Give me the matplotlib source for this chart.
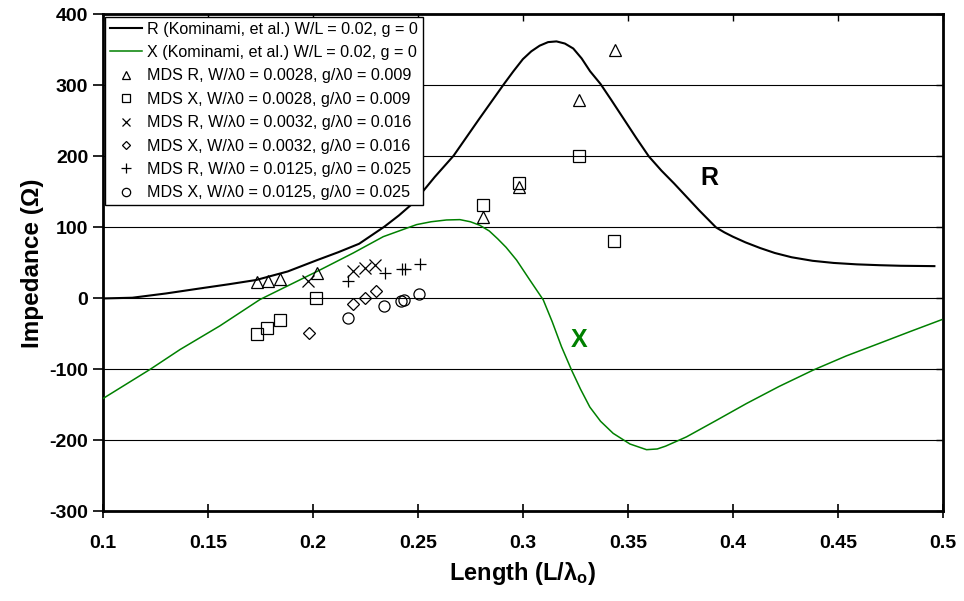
import matplotlib.pyplot as plt
import numpy as np

plt.rcParams['font.family'] = ['Liberation Sans', 'DejaVu Sans']
plt.rcParams['axes.unicode_minus'] = False
plt.rcParams['mathtext.fontset'] = 'custom'
plt.rcParams['mathtext.rm'] = 'Liberation Sans:bold'
plt.rcParams['mathtext.it'] = 'Liberation Sans:bold'
plt.rcParams['mathtext.bf'] = 'Liberation Sans:bold'

# Kominami curves
r_len = [0.100, 0.114, 0.130, 0.146, 0.160, 0.173, 0.188, 0.202, 0.212, 0.222, 0.234, 0.241,
         0.248, 0.258, 0.267, 0.279, 0.291, 0.2955, 0.300, 0.304, 0.308, 0.312, 0.316, 0.320,
         0.324, 0.328, 0.332, 0.337, 0.342, 0.348, 0.354, 0.360, 0.366, 0.372, 0.378, 0.384,
         0.392, 0.396, 0.400, 0.406, 0.413, 0.420, 0.428, 0.438, 0.448, 0.459, 0.470, 0.480, 0.496]
r_imp = [0, 1, 7, 14, 20, 26, 38, 54, 65, 77, 101, 117,
         135, 171, 201, 252, 302, 320, 337, 348, 356, 361, 362, 359,
         352, 338, 320, 302, 280, 253, 226, 200, 180, 162, 143, 124,
         100, 93, 87, 79, 71, 64, 58, 53, 50, 48, 46.8, 46, 45.5]

x_len = [0.100, 0.1224, 0.1367, 0.1557, 0.1748, 0.1875, 0.2033, 0.2192, 0.2335, 0.2494, 0.2563,
         0.2636, 0.270, 0.275, 0.2795, 0.284, 0.288, 0.292, 0.297, 0.3033, 0.3097, 0.314,
         0.3184, 0.3232, 0.3275, 0.3319, 0.337, 0.343, 0.351, 0.3589, 0.364, 0.368, 0.3779,
         0.392, 0.4065, 0.422, 0.4382, 0.454, 0.470, 0.485, 0.4994]
x_imp = [-141, -100, -72, -38.6, -1.5, 17, 40, 64, 87, 104, 108,
         110.5, 111, 108, 103, 95, 84, 72, 54, 26, -2, -33,
         -68, -101, -128, -153, -173, -190, -205, -213, -212, -208, -195,
         -172, -148, -124, -101, -81, -63, -46, -30]

# MDS points
mds_r1_len = [0.1732, 0.1787, 0.1843, 0.2020, 0.2811, 0.2982, 0.3265, 0.3438]
mds_r1_imp = [23, 24, 27, 36, 114, 157, 279, 350]
mds_x1_len = [0.1732, 0.1782, 0.1843, 0.2014, 0.2808, 0.2982, 0.3265, 0.3435]
mds_x1_imp = [-50.6, -41, -31, 0, 132, 163, 200, 81]
mds_r2_len = [0.1978, 0.2189, 0.2248, 0.2295]
mds_r2_imp = [25, 38.5, 43, 46.4]
mds_x2_len = [0.1981, 0.2192, 0.2248, 0.2300]
mds_x2_imp = [-48, -8.5, 0.5, 10.3]
mds_r3_len = [0.2168, 0.2343, 0.2422, 0.2438, 0.2510]
mds_r3_imp = [25, 36, 42, 42, 49]
mds_x3_len = [0.2168, 0.2340, 0.2419, 0.2435, 0.2505]
mds_x3_imp = [-27, -10.5, -3.5, -1.5, 6]

fig = plt.figure(figsize=(9.64, 6.01), dpi=100)
ax = fig.add_axes([0.1068, 0.149, 0.8712, 0.827])

for yv in range(-200, 400, 100):
    ax.axhline(yv, color='black', lw=0.8, zorder=1)

ax.plot(r_len, r_imp, color='black', lw=1.5, label='R (Kominami, et al.) W/L = 0.02, g = 0', zorder=3)
ax.plot(x_len, x_imp, color='#008000', lw=1.1, label='X (Kominami, et al.) W/L = 0.02, g = 0', zorder=3)

mk = dict(mfc='none', mec='black', ls='none', mew=0.9, zorder=4)
ax.plot(mds_r1_len, mds_r1_imp, marker='^', ms=8, label='MDS R, W/λ0 = 0.0028, g/λ0 = 0.009', **mk)
ax.plot(mds_x1_len, mds_x1_imp, marker='s', ms=8, label='MDS X, W/λ0 = 0.0028, g/λ0 = 0.009', **mk)
ax.plot(mds_r2_len, mds_r2_imp, marker='x', ms=8, label='MDS R, W/λ0 = 0.0032, g/λ0 = 0.016', **mk)
ax.plot(mds_x2_len, mds_x2_imp, marker='D', ms=6, label='MDS X, W/λ0 = 0.0032, g/λ0 = 0.016', **mk)
ax.plot(mds_r3_len, mds_r3_imp, marker='+', ms=9, label='MDS R, W/λ0 = 0.0125, g/λ0 = 0.025', **mk)
ax.plot(mds_x3_len, mds_x3_imp, marker='o', ms=8, label='MDS X, W/λ0 = 0.0125, g/λ0 = 0.025', **mk)

ax.text(0.389, 170, 'R', fontsize=18, fontweight='bold', color='black', ha='center', va='center')
ax.text(0.327, -58, 'X', fontsize=18, fontweight='bold', color='#008000', ha='center', va='center')

ax.set_xlim(0.1, 0.5)
ax.set_ylim(-300, 400)
ax.set_xticks(np.arange(0.1, 0.501, 0.05))
ax.set_xticklabels(['0.1', '0.15', '0.2', '0.25', '0.3', '0.35', '0.4', '0.45', '0.5'])
ax.set_yticks(range(-300, 401, 100))
ax.tick_params(axis='x', direction='inout', length=10, width=1.2, labelsize=14, pad=12)
ax.tick_params(axis='y', direction='out', length=7, width=1.2, labelsize=14)
for lab in ax.get_xticklabels() + ax.get_yticklabels():
    lab.set_fontweight('bold')
for s in ax.spines.values():
    s.set_linewidth(2)

top = ax.secondary_xaxis('top')
top.set_xticks(np.arange(0.1, 0.501, 0.05))
top.tick_params(direction='in', length=5, width=1, labeltop=False)
right = ax.secondary_yaxis('right')
right.set_yticks(range(-300, 401, 100))
right.tick_params(direction='in', length=5, width=1, labelright=False)

ax.set_xlabel(r'Length (L/$\lambda_o$)', fontsize=17, fontweight='bold', labelpad=6)
ax.set_ylabel('Impedance (Ω)', fontsize=17.5, fontweight='bold', labelpad=4)

leg = ax.legend(loc='upper left', fontsize=11.6, frameon=True, fancybox=False, framealpha=1,
                edgecolor='black', borderaxespad=0.15, borderpad=0.3, labelspacing=0.52,
                handlelength=2, handletextpad=0.3, markerscale=0.75)
leg.get_frame().set_linewidth(1)

plt.savefig('out.png', dpi=100)
